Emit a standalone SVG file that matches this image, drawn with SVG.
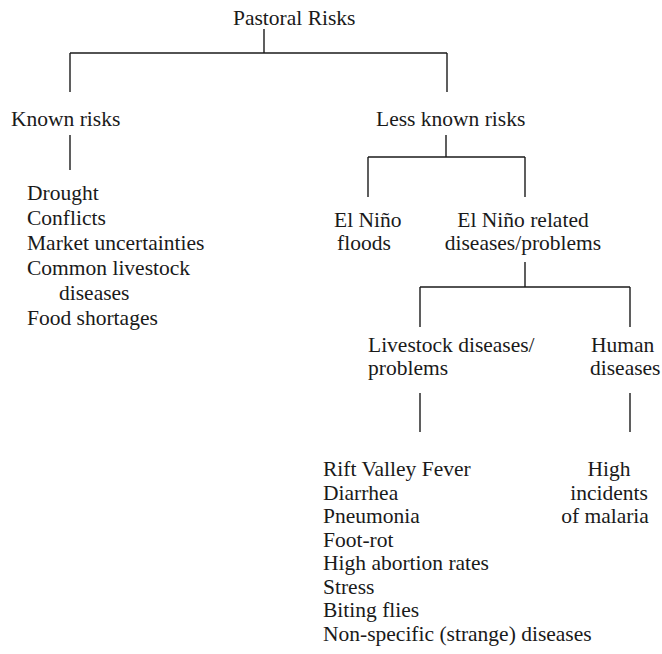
<svg xmlns="http://www.w3.org/2000/svg" width="662" height="654" viewBox="0 0 662 654">
<style>
text{font-family:"Liberation Serif","Times New Roman",serif;font-size:21.5px;fill:#1a1a1a}
.c{text-anchor:middle}
#connectors line{stroke:#1a1a1a;stroke-width:1.4;fill:none}
</style>
<rect width="662" height="654" fill="#fff"/>
<g id="connectors">
<line x1="264" y1="29" x2="264" y2="53"/>
<line x1="70" y1="53" x2="447" y2="53"/>
<line x1="70" y1="53" x2="70" y2="92"/>
<line x1="447" y1="53" x2="447" y2="92"/>
<line x1="70" y1="135" x2="70" y2="170"/>
<line x1="446" y1="135" x2="446" y2="157"/>
<line x1="368" y1="157" x2="525" y2="157"/>
<line x1="368" y1="157" x2="368" y2="197"/>
<line x1="525" y1="157" x2="525" y2="197"/>
<line x1="525" y1="262" x2="525" y2="287"/>
<line x1="420" y1="287" x2="630" y2="287"/>
<line x1="420" y1="287" x2="420" y2="327"/>
<line x1="630" y1="287" x2="630" y2="327"/>
<line x1="420" y1="393" x2="420" y2="432"/>
<line x1="630" y1="393" x2="630" y2="432"/>
</g>
<g id="pastoral"><text x="233" y="25">Pastoral Risks</text></g>
<g id="known"><text x="11" y="126">Known risks</text></g>
<g id="lessknown"><text x="376" y="126">Less known risks</text></g>
<g id="knownlist">
<text x="27" y="200">Drought</text>
<text x="27" y="225">Conflicts</text>
<text x="27" y="250">Market uncertainties</text>
<text x="27" y="275">Common livestock</text>
<text x="59" y="300">diseases</text>
<text x="27" y="325">Food shortages</text>
</g>
<g id="floods">
<text x="334" y="227">El Niño</text>
<text x="337" y="250">floods</text>
</g>
<g id="related">
<text x="523" y="227" class="c">El Niño related</text>
<text x="523" y="250" class="c">diseases/problems</text>
</g>
<g id="livestock">
<text x="368" y="352">Livestock diseases/</text>
<text x="368" y="375">problems</text>
</g>
<g id="human">
<text x="591" y="352">Human</text>
<text x="590" y="375">diseases</text>
</g>
<g id="livestocklist">
<text x="323" y="476">Rift Valley Fever</text>
<text x="323" y="500">Diarrhea</text>
<text x="323" y="523">Pneumonia</text>
<text x="323" y="547">Foot-rot</text>
<text x="323" y="570">High abortion rates</text>
<text x="323" y="594">Stress</text>
<text x="323" y="617">Biting flies</text>
<text x="323" y="641">Non-specific (strange) diseases</text>
</g>
<g id="malaria">
<text x="609" y="476" class="c">High</text>
<text x="609" y="500" class="c">incidents</text>
<text x="605" y="523" class="c">of malaria</text>
</g>
</svg>
